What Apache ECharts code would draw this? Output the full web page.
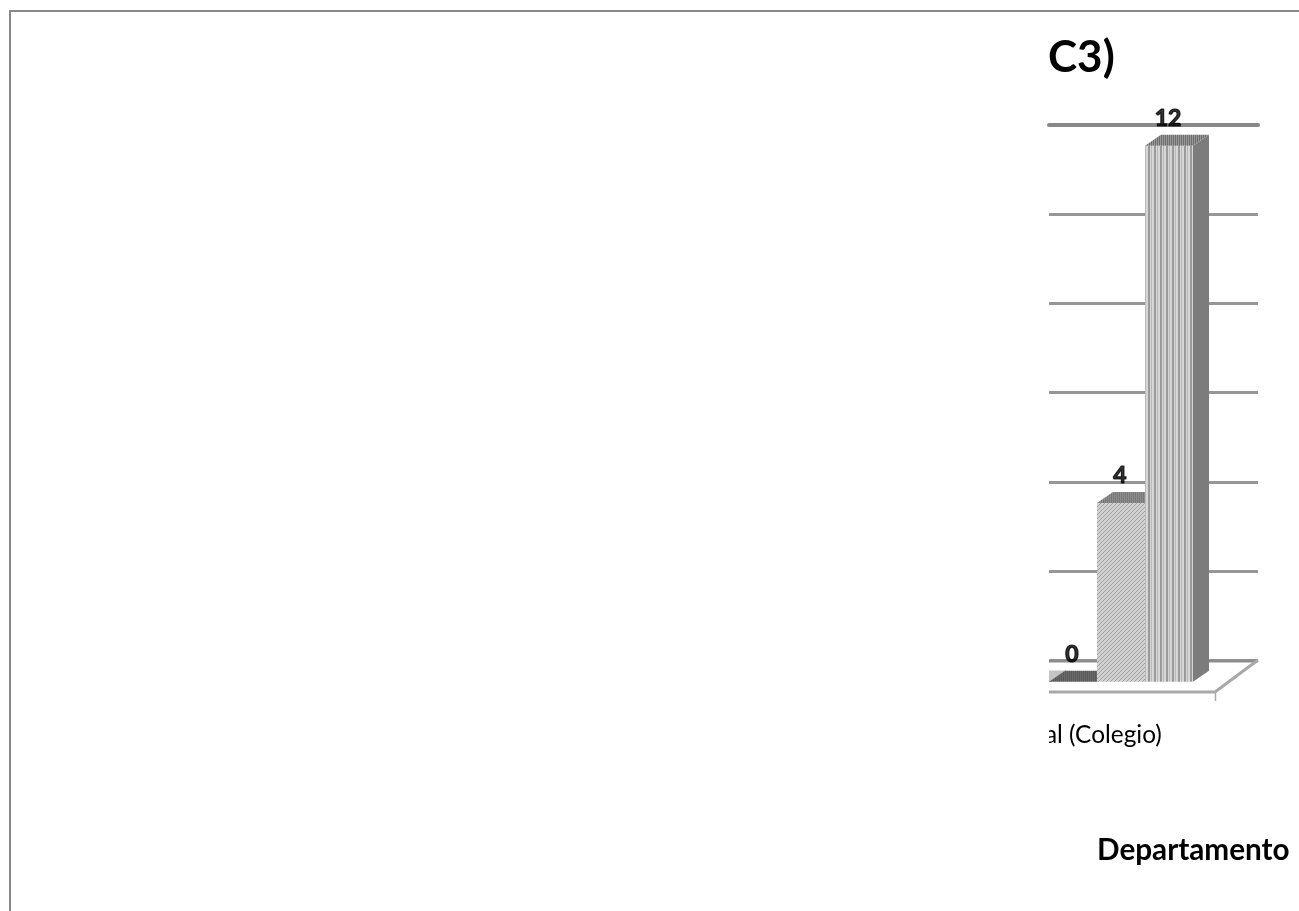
<!DOCTYPE html>
<html><head><meta charset="utf-8">
<style>html,body{margin:0;padding:0;background:#fff}#c{width:1299px;height:911px}</style>
<script src="https://cdn.jsdelivr.net/npm/echarts@6/dist/echarts.min.js"></script>
</head><body><div id="c"></div>
<script>
const slots = ['0', '4', '12'];
const values = [0, 4, 12];
const yTicks = [0, 2, 4, 6, 8, 10, 12];
const titleText = 'C3)';
const categoryText = 'al (Colegio)';
const axisTitleText = 'Departamento';

function stripes() {
  const c = document.createElement('canvas'); c.width = 6; c.height = 6;
  const g = c.getContext('2d');
  g.fillStyle = '#d6d6d6'; g.fillRect(0, 0, 6, 6);
  g.fillStyle = '#9a9a9a'; g.fillRect(2, 0, 2, 6);
  g.fillStyle = '#bababa'; g.fillRect(5, 0, 1, 6);
  return { image: c, repeat: 'repeat' };
}
function hatch() {
  const c = document.createElement('canvas'); c.width = 4; c.height = 4;
  const g = c.getContext('2d');
  g.fillStyle = '#d2d2d2'; g.fillRect(0, 0, 4, 4);
  g.fillStyle = '#a0a0a0';
  [[3,0],[2,1],[1,2],[0,3]].forEach(p => g.fillRect(p[0], p[1], 1, 1));
  return { image: c, repeat: 'repeat' };
}
function topHatch(light, dark) {
  const c = document.createElement('canvas'); c.width = 2; c.height = 2;
  const g = c.getContext('2d');
  g.fillStyle = dark; g.fillRect(0, 0, 2, 2);
  g.fillStyle = light; g.fillRect(0, 0, 1, 2);
  return { image: c, repeat: 'repeat' };
}
const frontFills = [hatch(), hatch(), stripes()];
const topFills = [topHatch('#6a6a6a', '#5a5a5a'), topHatch('#8e8e8e', '#787878'), topHatch('#989898', '#6e6e6e')];
const depthX = 16, depthY = 11;

function renderBar(params, api) {
  const i = api.value(0), v = api.value(1);
  const top = api.coord([i, v]), base = api.coord([i, 0]);
  const w = api.size([1, 0])[0];
  const x0 = top[0] - w / 2, x1 = top[0] + w / 2, yT = top[1], yB = base[1];
  const kids = [];
  if (v > 0) {
    kids.push({ type: 'rect', shape: { x: x0, y: yT, width: w, height: yB - yT }, style: { fill: frontFills[i] } });
    kids.push({ type: 'polygon', shape: { points: [[x1, yT], [x1 + depthX, yT - depthY], [x1 + depthX, yB - depthY], [x1, yB]] }, style: { fill: '#7c7c7c' } });
  }
  kids.push({ type: 'polygon', shape: { points: [[x0, yT], [x0 + depthX, yT - depthY], [x1 + depthX, yT - depthY], [x1, yT]] }, style: { fill: topFills[i] } });
  return { type: 'group', children: kids };
}

const chart = echarts.init(document.getElementById('c'), null, { renderer: 'canvas' });
chart.setOption({
  animation: false,
  backgroundColor: '#fff',
  title: [
    { text: titleText, left: 1043, top: 31, textStyle: { fontFamily: 'Lato', fontWeight: 'bold', fontSize: 44, color: '#000' } },
    { text: axisTitleText, left: 1092, top: 830, textStyle: { fontFamily: 'Lato', fontWeight: 'bold', fontSize: 29.7, color: '#000' } },
    { text: categoryText, left: 1040, top: 718, textStyle: { fontFamily: 'Lato', fontWeight: 'normal', fontSize: 24.4, color: '#000' } }
  ],
  grid: [
    { left: 1049, width: 209, top: 124.5, height: 536 },
    { left: 1049, width: 144, top: 145.7, height: 536 }
  ],
  xAxis: [
    { gridIndex: 0, type: 'value', position: 'top', min: 0, max: 1, splitLine: { show: false }, axisTick: { show: false }, axisLabel: { show: false }, axisLine: { show: true, onZero: false, lineStyle: { color: '#888', width: 4 } } },
    { gridIndex: 1, type: 'category', data: slots, show: false }
  ],
  yAxis: [
    { gridIndex: 0, type: 'value', min: yTicks[0], max: yTicks[yTicks.length - 1], interval: 2, axisLine: { show: false }, axisTick: { show: false }, axisLabel: { show: false }, splitLine: { show: true, lineStyle: { color: '#969696', width: 3 } } },
    { gridIndex: 1, type: 'value', min: yTicks[0], max: yTicks[yTicks.length - 1], interval: 2, show: false, splitLine: { show: false } }
  ],
  series: [{
    type: 'custom', xAxisIndex: 1, yAxisIndex: 1, z: 5, clip: false,
    data: values.map((v, i) => [i, v]), renderItem: renderBar, encode: { x: 0, y: 1 }
  }, {
    type: 'scatter', xAxisIndex: 1, yAxisIndex: 1, z: 8, clip: false, symbolSize: 1, itemStyle: { color: 'rgba(0,0,0,0)' },
    data: values.map((v, i) => [i, v]),
    label: { show: true, position: 'inside', offset: [-1, -depthY - 16], formatter: p => String(p.value[1]), fontFamily: 'Lato', fontWeight: 700, fontSize: 23, color: '#000', textBorderColor: '#000', textBorderWidth: 1.2 }
  }],
  graphic: [
    { type: 'rect', z: 100, shape: { x: 12, y: 30, width: 1037, height: 60 }, style: { fill: '#fff' } },
    { type: 'rect', z: 100, shape: { x: 12, y: 715, width: 1037, height: 45 }, style: { fill: '#fff' } },
    { type: 'rect', z: 1, shape: { x: 10, y: 11, width: 1300, height: 920 }, style: { fill: 'none', stroke: '#888', lineWidth: 2 } },
    { type: 'polygon', z: 3, shape: { points: [[1049, 661], [1258, 661], [1215, 692], [1049, 692]] }, style: { fill: '#fff' } },
    { type: 'polyline', z: 3, shape: { points: [[1049, 661], [1258, 661]] }, style: { stroke: '#8c8c8c', lineWidth: 3 } },
    { type: 'polyline', z: 3, shape: { points: [[1258, 660], [1215, 692], [1049, 692]] }, style: { fill: 'none', stroke: '#a8a8a8', lineWidth: 3 } },
    { type: 'line', z: 3, shape: { x1: 1215.5, y1: 692, x2: 1215.5, y2: 701 }, style: { stroke: '#a8a8a8', lineWidth: 1.5 } },
    { type: 'polygon', z: 3, shape: { points: [[1049, 670.5], [1066, 670.5], [1050, 682], [1049, 682]] }, style: { fill: '#c4c4c4' } }
  ]
});
</script></body></html>
